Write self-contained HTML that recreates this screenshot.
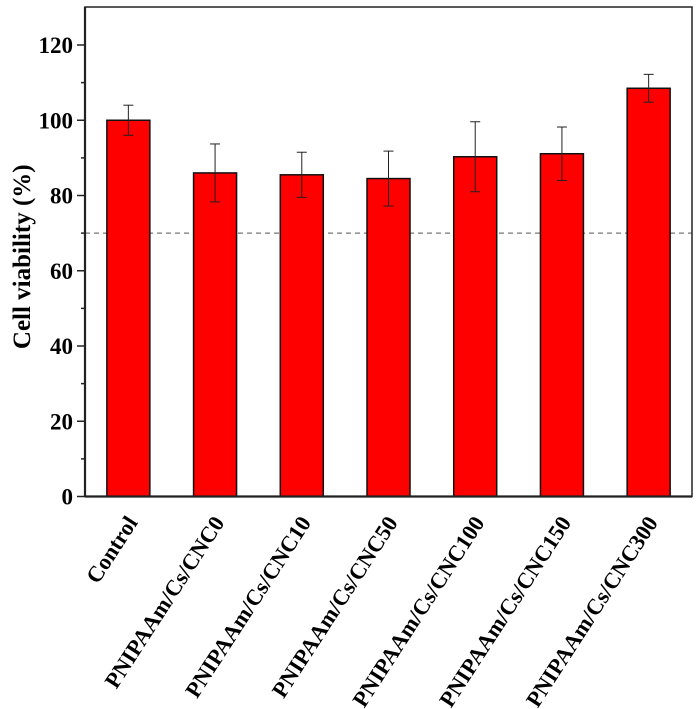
<!DOCTYPE html>
<html><head><meta charset="utf-8"><style>body{margin:0;background:#fff}svg{display:block}</style></head>
<body>
<svg id="chart" width="700" height="709" xmlns="http://www.w3.org/2000/svg" font-family="'Liberation Serif', serif" font-weight="bold"></svg>
<script>
const categories = ["Control","PNIPAAm/Cs/CNC0","PNIPAAm/Cs/CNC10","PNIPAAm/Cs/CNC50","PNIPAAm/Cs/CNC100","PNIPAAm/Cs/CNC150","PNIPAAm/Cs/CNC300"];
const values = [100, 86, 85.5, 84.5, 90.3, 91.1, 108.5];
const errors = [4, 7.7, 6, 7.3, 9.3, 7.1, 3.7];
const yTicks = [0,20,40,60,80,100,120];
const threshold = 70;

const svg = document.getElementById('chart');
const NS = 'http://www.w3.org/2000/svg';
const L = 85, R = 692, T = 7, B = 496.5, yMax = 130;
const y = v => B - v * (B - 45) / 120;
const step = (R - L) / categories.length;
const x = i => L + step * (i + 0.5);
const bw = 43;
function mk(tag, attrs, parent) {
  const e = document.createElementNS(NS, tag);
  for (const k in attrs) e.setAttribute(k, attrs[k]);
  (parent || svg).appendChild(e);
  return e;
}
let tl = mk('line', {x1:L, x2:R, y1:y(threshold), y2:y(threshold), stroke:'#777', 'stroke-width':1.2, 'stroke-dasharray':'5,4'});


values.forEach((v, i) => {
  const r = mk('rect', {x:x(i)-bw/2, y:y(v), width:bw, height:B-y(v), fill:'#ff0000', stroke:'#111', 'stroke-width':1.5});
  
  
  const g = mk('g', {stroke:'#222', 'stroke-width':1});
  
  
  const hi = y(v + errors[i]), lo = y(v - errors[i]);
  mk('line', {x1:x(i), x2:x(i), y1:hi, y2:lo}, g);
  mk('line', {x1:x(i)-5, x2:x(i)+5, y1:hi, y2:hi}, g);
  mk('line', {x1:x(i)-5, x2:x(i)+5, y1:lo, y2:lo}, g);
  const t = mk('text', {x:0, y:0, 'text-anchor':'end', 'font-size':22.5, transform:`translate(${x(i)+10},${B+26}) rotate(-57)`});
  t.textContent = categories[i];
  
  
});
let fr = mk('rect', {x:L, y:T, width:R-L, height:B-T, fill:'none', stroke:'#222', 'stroke-width':1.5});


let ax = mk('line', {x1:L, x2:L, y1:T, y2:B, stroke:'#222', 'stroke-width':2.2});


let bx = mk('line', {x1:L, x2:R, y1:B, y2:B, stroke:'#222', 'stroke-width':2.2});


yTicks.forEach(v => {
  mk('line', {x1:L-8, x2:L, y1:y(v), y2:y(v), stroke:'#222', 'stroke-width':1.5});
  if (v + 10 < yMax) mk('line', {x1:L-4, x2:L, y1:y(v+10), y2:y(v+10), stroke:'#222', 'stroke-width':1.5});
  const t = mk('text', {x:L-12, y:y(v)+8, 'text-anchor':'end', 'font-size':23});
  t.textContent = v;
  
  
});
const yt = mk('text', {x:0, y:0, 'text-anchor':'middle', 'font-size':25, transform:`translate(30,${(T+B)/2+5}) rotate(-90)`});
yt.textContent = 'Cell viability (%)';


</script>
</body></html>
